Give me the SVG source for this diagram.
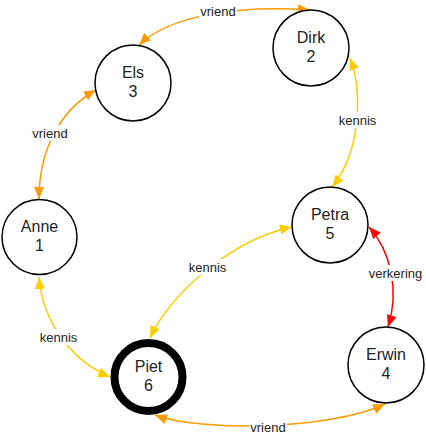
<svg xmlns="http://www.w3.org/2000/svg" width="426" height="437" viewBox="0 0 426 437">
<style>
.node circle{fill:#fff;stroke:#000;stroke-width:1.5}
.node text{font-family:"Liberation Sans",Arial,sans-serif;font-size:16px;fill:#222;text-anchor:middle}
.edge{fill:none;stroke-width:1.5}
.or{stroke:#F90}
.ye{stroke:#FC0}
.rd{stroke:#F00}
.lbl rect{fill:#fff}
.lbl text{font-family:"Liberation Sans",Arial,sans-serif;font-size:13px;fill:#222;text-anchor:middle}
</style>
<defs>
<marker id="mo" viewBox="0 0 12 10" refX="12" refY="5" markerWidth="12" markerHeight="10" markerUnits="userSpaceOnUse" orient="auto-start-reverse"><path d="M0,0 L12,5 L0,10 z" fill="#F90"/></marker>
<marker id="my" viewBox="0 0 12 10" refX="12" refY="5" markerWidth="12" markerHeight="10" markerUnits="userSpaceOnUse" orient="auto-start-reverse"><path d="M0,0 L12,5 L0,10 z" fill="#FC0"/></marker>
<marker id="mr" viewBox="0 0 12 10" refX="12" refY="5" markerWidth="12" markerHeight="10" markerUnits="userSpaceOnUse" orient="auto-start-reverse"><path d="M0,0 L12,5 L0,10 z" fill="#F00"/></marker>
</defs>
<g id="connectors">
<path class="edge or" d="M139,45 C170,15 240,5 310,10" marker-start="url(#mo)" marker-end="url(#mo)"/>
<path class="edge or" d="M96,90 C60,110 39,150 39,199" marker-start="url(#mo)" marker-end="url(#mo)"/>
<path class="edge ye" d="M39,277 C42,320 70,360 110,377" marker-start="url(#my)" marker-end="url(#my)"/>
<path class="edge ye" d="M150,338 C170,295 230,240 292,227" marker-start="url(#my)" marker-end="url(#my)"/>
<path class="edge ye" d="M350,58 C362,90 362,150 332,187" marker-start="url(#my)" marker-end="url(#my)"/>
<path class="edge rd" d="M369,227 C390,250 400,290 388,327" marker-start="url(#mr)" marker-end="url(#mr)"/>
<path class="edge or" d="M155,415 C200,432 330,430 385,404" marker-start="url(#mo)" marker-end="url(#mo)"/>
<g class="lbl"><rect x="199" y="3" width="38" height="16"/><text x="218" y="16">vriend</text></g>
<g class="lbl"><rect x="31" y="125" width="38" height="16"/><text x="50" y="138">vriend</text></g>
<g class="lbl"><rect x="38" y="329" width="41" height="16"/><text x="58.5" y="342">kennis</text></g>
<g class="lbl"><rect x="187" y="259" width="41" height="16"/><text x="207.5" y="272">kennis</text></g>
<g class="lbl"><rect x="337" y="112" width="41" height="16"/><text x="357.5" y="125">kennis</text></g>
<g class="lbl"><rect x="367" y="265" width="57" height="16"/><text x="395.5" y="278">verkering</text></g>
<g class="lbl"><rect x="249" y="419" width="38" height="16"/><text x="268" y="432">vriend</text></g>
</g>
<g id="node-els" class="node"><circle cx="133" cy="83" r="38"/><text x="133" y="78">Els</text><text x="133" y="97">3</text></g>
<g id="node-dirk" class="node"><circle cx="311" cy="48" r="38"/><text x="311" y="43">Dirk</text><text x="311" y="62">2</text></g>
<g id="node-anne" class="node"><circle cx="39.5" cy="237" r="37.5"/><text x="39.5" y="232">Anne</text><text x="39.5" y="251">1</text></g>
<g id="node-petra" class="node"><circle cx="330" cy="225" r="38"/><text x="330" y="220">Petra</text><text x="330" y="239">5</text></g>
<g id="node-erwin" class="node"><circle cx="386" cy="365" r="38"/><text x="386" y="360">Erwin</text><text x="386" y="379">4</text></g>
<g id="node-piet" class="node"><circle cx="148.5" cy="377" r="34" style="stroke-width:8"/><text x="148.5" y="372">Piet</text><text x="148.5" y="391">6</text></g>
</svg>
